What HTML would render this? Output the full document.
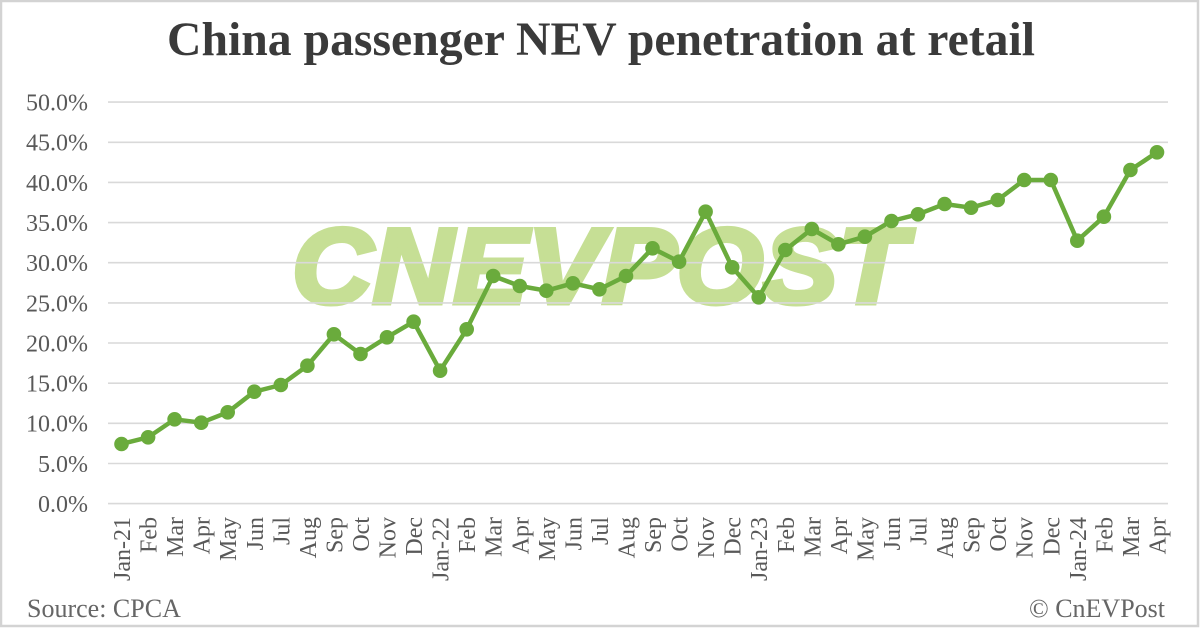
<!DOCTYPE html>
<html><head><meta charset="utf-8"><style>
html,body{margin:0;padding:0;background:#fff;}
svg{display:block;}
</style></head><body>
<svg width="1200" height="628" viewBox="0 0 1200 628" xmlns="http://www.w3.org/2000/svg">
<rect x="0" y="0" width="1200" height="628" fill="#ffffff"/>
<rect x="1" y="1" width="1197" height="625" fill="none" stroke="#d3d3d3" stroke-width="2.5"/>
<text x="601" y="55" text-anchor="middle" font-family="'Liberation Serif', serif" font-weight="bold" font-size="48" fill="#3a3a3a" textLength="868" lengthAdjust="spacingAndGlyphs">China passenger NEV penetration at retail</text>
<!-- watermark -->
<text x="292" y="303" font-family="'Liberation Sans', sans-serif" font-weight="bold" font-style="italic" font-size="107" fill="#c6df95" stroke="#c6df95" stroke-width="5" stroke-linejoin="miter" textLength="614" lengthAdjust="spacingAndGlyphs">CNEVPOST</text>
<!-- gridlines -->
<g stroke="#d9d9d9" stroke-width="1.6">
<line x1="108" y1="102.1" x2="1168" y2="102.1"/>
<line x1="108" y1="142.3" x2="1168" y2="142.3"/>
<line x1="108" y1="182.4" x2="1168" y2="182.4"/>
<line x1="108" y1="222.6" x2="1168" y2="222.6"/>
<line x1="108" y1="262.7" x2="1168" y2="262.7"/>
<line x1="108" y1="302.9" x2="1168" y2="302.9"/>
<line x1="108" y1="343.0" x2="1168" y2="343.0"/>
<line x1="108" y1="383.2" x2="1168" y2="383.2"/>
<line x1="108" y1="423.3" x2="1168" y2="423.3"/>
<line x1="108" y1="463.5" x2="1168" y2="463.5"/>
<line x1="108" y1="503.6" x2="1168" y2="503.6"/>
</g>
<!-- y labels -->
<g font-family="'Liberation Serif', serif" font-size="24" fill="#595959" text-anchor="end">
<text x="88" y="110.5">50.0%</text>
<text x="88" y="150.7">45.0%</text>
<text x="88" y="190.8">40.0%</text>
<text x="88" y="231.0">35.0%</text>
<text x="88" y="271.1">30.0%</text>
<text x="88" y="311.3">25.0%</text>
<text x="88" y="351.4">20.0%</text>
<text x="88" y="391.6">15.0%</text>
<text x="88" y="431.7">10.0%</text>
<text x="88" y="471.9">5.0%</text>
<text x="88" y="512.0">0.0%</text>
</g>
<!-- series -->
<polyline fill="none" stroke="#6aab3c" stroke-width="4.5" stroke-linejoin="round" points="121.5,444 148.1,437.3 174.6,419.3 201.2,422.7 227.7,412.3 254.3,391.7 280.8,385 307.4,365.7 333.9,334.3 360.5,354 387.0,337.3 413.6,321.7 440.1,370.7 466.7,329.3 493.2,276 519.8,286 546.3,290.7 572.9,283.3 599.4,289.3 626.0,276 652.5,248.3 679.1,261.7 705.6,211.7 732.2,267.3 758.7,297.3 785.3,250 811.8,229 838.4,244.3 864.9,236.7 891.5,221 918.0,214.3 944.6,204 971.1,207.7 997.7,200 1024.2,180 1050.8,180 1077.3,240.7 1103.9,216.7 1130.4,170 1157.0,152.3"/>
<g fill="#6aab3c">
<circle cx="121.5" cy="444" r="7.3"/><circle cx="148.1" cy="437.3" r="7.3"/><circle cx="174.6" cy="419.3" r="7.3"/><circle cx="201.2" cy="422.7" r="7.3"/><circle cx="227.7" cy="412.3" r="7.3"/><circle cx="254.3" cy="391.7" r="7.3"/><circle cx="280.8" cy="385" r="7.3"/><circle cx="307.4" cy="365.7" r="7.3"/><circle cx="333.9" cy="334.3" r="7.3"/><circle cx="360.5" cy="354" r="7.3"/><circle cx="387.0" cy="337.3" r="7.3"/><circle cx="413.6" cy="321.7" r="7.3"/><circle cx="440.1" cy="370.7" r="7.3"/><circle cx="466.7" cy="329.3" r="7.3"/><circle cx="493.2" cy="276" r="7.3"/><circle cx="519.8" cy="286" r="7.3"/><circle cx="546.3" cy="290.7" r="7.3"/><circle cx="572.9" cy="283.3" r="7.3"/><circle cx="599.4" cy="289.3" r="7.3"/><circle cx="626.0" cy="276" r="7.3"/><circle cx="652.5" cy="248.3" r="7.3"/><circle cx="679.1" cy="261.7" r="7.3"/><circle cx="705.6" cy="211.7" r="7.3"/><circle cx="732.2" cy="267.3" r="7.3"/><circle cx="758.7" cy="297.3" r="7.3"/><circle cx="785.3" cy="250" r="7.3"/><circle cx="811.8" cy="229" r="7.3"/><circle cx="838.4" cy="244.3" r="7.3"/><circle cx="864.9" cy="236.7" r="7.3"/><circle cx="891.5" cy="221" r="7.3"/><circle cx="918.0" cy="214.3" r="7.3"/><circle cx="944.6" cy="204" r="7.3"/><circle cx="971.1" cy="207.7" r="7.3"/><circle cx="997.7" cy="200" r="7.3"/><circle cx="1024.2" cy="180" r="7.3"/><circle cx="1050.8" cy="180" r="7.3"/><circle cx="1077.3" cy="240.7" r="7.3"/><circle cx="1103.9" cy="216.7" r="7.3"/><circle cx="1130.4" cy="170" r="7.3"/><circle cx="1157.0" cy="152.3" r="7.3"/>
</g>
<!-- x labels -->
<g font-family="'Liberation Serif', serif" font-size="24" fill="#595959" text-anchor="end">
<text transform="translate(130,517) rotate(-90)">Jan-21</text>
<text transform="translate(156.6,517) rotate(-90)">Feb</text>
<text transform="translate(183.1,517) rotate(-90)">Mar</text>
<text transform="translate(209.7,517) rotate(-90)">Apr</text>
<text transform="translate(236.2,517) rotate(-90)">May</text>
<text transform="translate(262.8,517) rotate(-90)">Jun</text>
<text transform="translate(289.3,517) rotate(-90)">Jul</text>
<text transform="translate(315.9,517) rotate(-90)">Aug</text>
<text transform="translate(342.4,517) rotate(-90)">Sep</text>
<text transform="translate(369.0,517) rotate(-90)">Oct</text>
<text transform="translate(395.5,517) rotate(-90)">Nov</text>
<text transform="translate(422.1,517) rotate(-90)">Dec</text>
<text transform="translate(448.6,517) rotate(-90)">Jan-22</text>
<text transform="translate(475.2,517) rotate(-90)">Feb</text>
<text transform="translate(501.7,517) rotate(-90)">Mar</text>
<text transform="translate(528.3,517) rotate(-90)">Apr</text>
<text transform="translate(554.8,517) rotate(-90)">May</text>
<text transform="translate(581.4,517) rotate(-90)">Jun</text>
<text transform="translate(607.9,517) rotate(-90)">Jul</text>
<text transform="translate(634.5,517) rotate(-90)">Aug</text>
<text transform="translate(661.0,517) rotate(-90)">Sep</text>
<text transform="translate(687.6,517) rotate(-90)">Oct</text>
<text transform="translate(714.1,517) rotate(-90)">Nov</text>
<text transform="translate(740.7,517) rotate(-90)">Dec</text>
<text transform="translate(767.2,517) rotate(-90)">Jan-23</text>
<text transform="translate(793.8,517) rotate(-90)">Feb</text>
<text transform="translate(820.3,517) rotate(-90)">Mar</text>
<text transform="translate(846.9,517) rotate(-90)">Apr</text>
<text transform="translate(873.4,517) rotate(-90)">May</text>
<text transform="translate(900.0,517) rotate(-90)">Jun</text>
<text transform="translate(926.5,517) rotate(-90)">Jul</text>
<text transform="translate(953.1,517) rotate(-90)">Aug</text>
<text transform="translate(979.6,517) rotate(-90)">Sep</text>
<text transform="translate(1006.2,517) rotate(-90)">Oct</text>
<text transform="translate(1032.7,517) rotate(-90)">Nov</text>
<text transform="translate(1059.3,517) rotate(-90)">Dec</text>
<text transform="translate(1085.8,517) rotate(-90)">Jan-24</text>
<text transform="translate(1112.4,517) rotate(-90)">Feb</text>
<text transform="translate(1138.9,517) rotate(-90)">Mar</text>
<text transform="translate(1165.5,517) rotate(-90)">Apr</text>
</g>
<text x="27" y="617" font-family="'Liberation Serif', serif" font-size="26" fill="#666666">Source: CPCA</text>
<text x="1165" y="617" text-anchor="end" font-family="'Liberation Serif', serif" font-size="26" fill="#666666">© CnEVPost</text>
</svg>
</body></html>
